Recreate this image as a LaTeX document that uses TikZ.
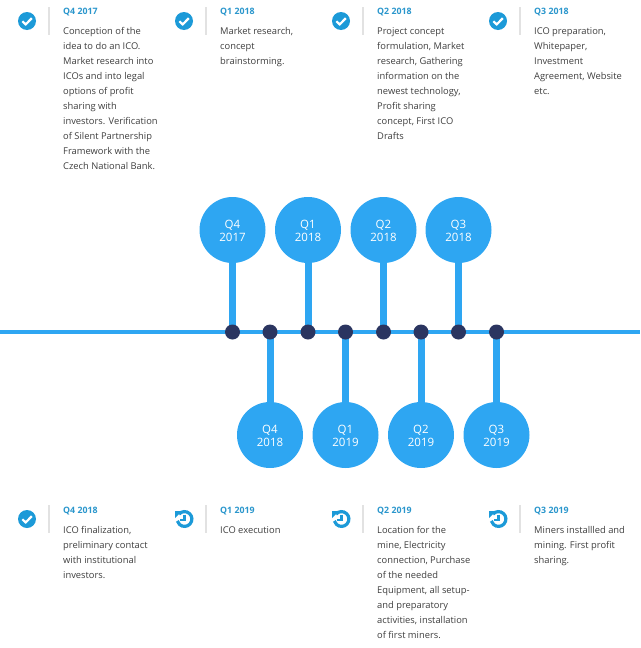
\documentclass[tikz,border=0pt]{standalone}
\usepackage{fontspec}
\usetikzlibrary{backgrounds}
\setmainfont{Open Sans}
\definecolor{tlblue}{HTML}{2EA6F2}
\definecolor{icblue}{HTML}{1C9AD8}
\definecolor{titleblue}{HTML}{2A96CC}
\definecolor{dotnavy}{HTML}{2B3560}
\definecolor{sepgray}{HTML}{E2E2E2}
\definecolor{bodygray}{HTML}{3E3E3E}
\tikzset{
  x=1pt,y=-1pt,
  bubble/.style={circle,fill=tlblue,minimum size=66pt,inner sep=0pt,text=white,align=center,font=\fontsize{11.5}{13.5}\selectfont},
  hub/.style={circle,fill=dotnavy,minimum size=15pt,inner sep=0pt},
  stem/.style={draw=tlblue,line width=7pt},
  mainline/.style={draw=tlblue,line width=4pt},
  sepline/.style={draw=sepgray,line width=1.2pt},
  qtitle/.style={anchor=west,inner sep=0pt,text=titleblue,font=\fontsize{8.8}{11}\selectfont\bfseries},
  qbody/.style={anchor=north west,inner sep=0pt,align=left,text=bodygray,font=\fontsize{9.35}{15}\selectfont},
  iconbase/.style={circle,minimum size=18pt,inner sep=0pt},
}
\newcommand{\bubtxt}[2]{\rule{0pt}{10.5pt}#1\\#2}
\newcommand{\checkicon}[2]{%
  \node[iconbase,fill=icblue] (#2) at (#1) {};
  \draw[white,line width=2.2pt] ([shift={(-4.6,0.3)}]#2.center) -- ([shift={(-1.3,3.4)}]#2.center) -- ([shift={(4.8,-2.8)}]#2.center);
}
\newcommand{\historyicon}[2]{%
  \node[iconbase] (#2) at (#1) {};
  \begin{scope}[shift={(#2.center)},x=1pt,y=1pt]
    \draw[icblue,line width=3.2pt] (138:7.4) arc[start angle=138,end angle=-165,radius=7.4pt];
    \fill[icblue] (-9.5,7.8) -- (-9.5,0.8) -- (-2.5,7.8) -- cycle;
    \draw[icblue,line width=2.2pt] (0,4.5) -- (0,-1.2) -- (-4.2,-1.2);
  \end{scope}
}
\begin{document}
\begin{tikzpicture}
\useasboundingbox (0,0) rectangle (640,648);
\coordinate (lineL) at (0,332);
\coordinate (lineR) at (640,332);
% upper bubbles
\node[bubble] (b1) at (232.5,230) {\bubtxt{Q4}{2017}};
\node[bubble] (b2) at (308,230) {\bubtxt{Q1}{2018}};
\node[bubble] (b3) at (383.5,230) {\bubtxt{Q2}{2018}};
\node[bubble] (b4) at (458.5,230) {\bubtxt{Q3}{2018}};
% lower bubbles
\node[bubble] (b5) at (270,435) {\bubtxt{Q4}{2018}};
\node[bubble] (b6) at (345.5,435) {\bubtxt{Q1}{2019}};
\node[bubble] (b7) at (421,435) {\bubtxt{Q2}{2019}};
\node[bubble] (b8) at (496.5,435) {\bubtxt{Q3}{2019}};
% hubs
\foreach \i/\xx in {1/232.5,2/308,3/383.5,4/458.5,5/270,6/345.5,7/421,8/496.5}{
  \node[hub] (h\i) at (\xx,332) {};
}
% stems and main line behind the hubs and bubbles
\begin{scope}[on background layer]
  \path[mainline] (lineL) -- (lineR);
  \foreach \i in {1,...,8}{ \path[stem] (b\i.center) -- (h\i.center); }
\end{scope}
% icons
\checkicon{27,21}{i1}
\checkicon{184,21}{i2}
\checkicon{341,21}{i3}
\checkicon{498,21}{i4}
\checkicon{27,519}{i5}
\historyicon{184.5,519}{i6}
\historyicon{341.5,519}{i7}
\historyicon{498.5,519}{i8}
\foreach \i/\xx/\yy in {1/49/7,2/206/7,3/363/7,4/520/7,5/49/505,6/206/505,7/363/505,8/520/505}{
  \coordinate (sa\i) at (\xx,\yy);
  \coordinate (sb\i) at (\xx,\yy+28);
  \path[sepline] (sa\i) -- (sb\i);
}
\node[qtitle] (t1) at (63,12) {Q4 2017};
\node[qtitle] (t2) at (220,12) {Q1 2018};
\node[qtitle] (t3) at (377,12) {Q2 2018};
\node[qtitle] (t4) at (534,12) {Q3 2018};
\node[qtitle] (t5) at (63,511) {Q4 2018};
\node[qtitle] (t6) at (220,511) {Q1 2019};
\node[qtitle] (t7) at (377,511) {Q2 2019};
\node[qtitle] (t8) at (534,511) {Q3 2019};
\node[qbody] (d1) at (63,27) {Conception of the\\idea to do an ICO.\\Market research into\\ICOs and into legal\\options of profit\\sharing with\\investors. Verification\\of Silent Partnership\\Framework with the\\Czech National Bank.};
\node[qbody] (d2) at (220,27) {Market research,\\concept\\brainstorming.};
\node[qbody] (d3) at (377,27) {Project concept\\formulation, Market\\research, Gathering\\information on the\\newest technology,\\Profit sharing\\concept, First ICO\\Drafts};
\node[qbody] (d4) at (534,27) {ICO preparation,\\Whitepaper,\\Investment\\Agreement, Website\\etc.};
\node[qbody] (d5) at (63,526) {ICO finalization,\\preliminary contact\\with institutional\\investors.};
\node[qbody] (d6) at (220,526) {ICO execution};
\node[qbody] (d7) at (377,526) {Location for the\\mine, Electricity\\connection, Purchase\\of the needed\\Equipment, all setup-\\and preparatory\\activities, installation\\of first miners.};
\node[qbody] (d8) at (534,526) {Miners installled and\\mining. First profit\\sharing.};
\end{tikzpicture}
\end{document}
